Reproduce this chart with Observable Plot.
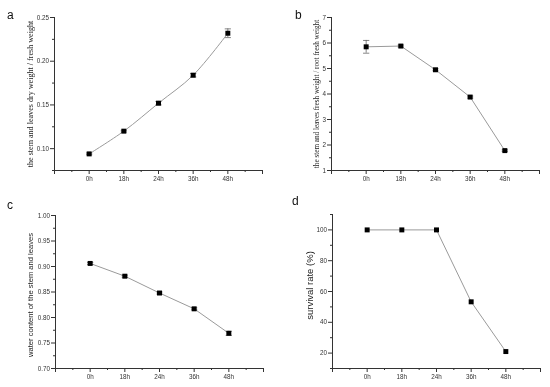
<!DOCTYPE html>
<html>
<head>
<meta charset="utf-8">
<script src="https://cdn.jsdelivr.net/npm/d3@7"></script>
<script src="https://cdn.jsdelivr.net/npm/@observablehq/plot@0.6"></script>
<style>
  html, body { margin: 0; padding: 0; background: #fff; }
  #wrap { position: relative; width: 550px; height: 387px; overflow: hidden; background: #fff; }
  .panel { position: absolute; will-change: transform; }
  .letter { position: absolute; font-family: "Liberation Sans", Arial, sans-serif; font-size: 12px; color: #111; line-height: 1; }
</style>
</head>
<body>
<div id="wrap"></div>
<script>
// ---- data ----
const timeLabels = ["0h", "18h", "24h", "36h", "48h"];

const dryRatio = [0.094, 0.120, 0.152, 0.184, 0.232];
const dryRatioErr = [0.001, 0.001, 0.002, 0.002, 0.005];

const freshRatio = [5.85, 5.88, 4.95, 3.88, 1.78];
const freshRatioErr = [0.25, 0.04, 0.04, 0.04, 0.03];

const waterContent = [0.906, 0.881, 0.848, 0.817, 0.769];
const waterContentErr = [0.002, 0.002, 0.002, 0.002, 0.004];

const survivalRate = [100, 100, 100, 53.3, 21];
const survivalRateErr = [0, 0, 0, 0, 0];

const panelLetters = ["a", "b", "c", "d"];
const yLabels = [
  "the stem and leaves dry weight / fresh weight",
  "the stem and leaves fresh weight / root fresh weight",
  "water content of the stem and leaves",
  "survival rate (%)"
];

// ---- drawing ----
const wrap = document.getElementById("wrap");
const xMajor = [-1, 0, 1, 2, 3, 4, 5];
const xMinor = [-0.5, 0.5, 1.5, 2.5, 3.5, 4.5];

function panel(cfg) {
  const data = cfg.values.map((v, i) => ({i, v, e: cfg.errs[i]}));
  const capW = 0.09;
  const eb = data.filter(d => d.e > 0);
  const plot = Plot.plot({
    width: cfg.width,
    height: cfg.height,
    marginLeft: cfg.ml, marginRight: cfg.mr, marginTop: cfg.mt, marginBottom: cfg.mb,
    style: {fontFamily: "'Liberation Sans', Arial, sans-serif", fontSize: "6.3px", color: "#333", background: "transparent", overflow: "visible"},
    x: {domain: [-1, 5], axis: null},
    y: {domain: cfg.domain, axis: null},
    marks: [
      Plot.ruleX([-1], {stroke: "#333", strokeWidth: 1}),
      Plot.ruleY([cfg.domain[0]], {stroke: "#333", strokeWidth: 1}),
      Plot.axisX({ticks: xMajor, tickSize: 4, tickPadding: 2, label: null,
        tickFormat: d => (d >= 0 && d <= 4 ? timeLabels[d] : "")}),
      Plot.axisX({ticks: xMinor, tickSize: 2, tickFormat: () => "", label: null}),
      Plot.axisY({ticks: cfg.major, tickSize: 4, tickPadding: 1.5, tickFormat: cfg.fmt, label: null}),
      Plot.axisY({ticks: cfg.minor, tickSize: 2, tickFormat: () => "", label: null}),
      Plot.line(data, {x: "i", y: "v", stroke: "#9a9a9a", strokeWidth: 1, curve: cfg.curve}),
      Plot.ruleX(eb, {x: "i", y1: d => d.v - d.e, y2: d => d.v + d.e, stroke: "#666", strokeWidth: 0.8}),
      Plot.link(eb, {x1: d => d.i - capW, x2: d => d.i + capW, y1: d => d.v + d.e, y2: d => d.v + d.e, stroke: "#666", strokeWidth: 0.8}),
      Plot.link(eb, {x1: d => d.i - capW, x2: d => d.i + capW, y1: d => d.v - d.e, y2: d => d.v - d.e, stroke: "#666", strokeWidth: 0.8}),
      Plot.dot(data, {x: "i", y: "v", symbol: "square", r: 2.8, fill: "#000", stroke: "none"}),
      Plot.text([cfg.label], {frameAnchor: "left", rotate: -90, textAnchor: "middle", dx: cfg.ldx, dy: cfg.ldy || 0,
        fontFamily: cfg.serif ? "'Liberation Serif', 'Times New Roman', serif" : "'Liberation Sans', Arial, sans-serif",
        fontSize: cfg.lfs, fill: "#222"})
    ]
  });
  plot.classList.add("panel");
  plot.style.left = cfg.left + "px";
  plot.style.top = cfg.top + "px";
  wrap.appendChild(plot);
  const L = document.createElement("div");
  L.className = "letter";
  L.textContent = cfg.letter;
  L.style.left = cfg.lx + "px";
  L.style.top = cfg.ly + "px";
  wrap.appendChild(L);
}

const f2 = d3.format(".2f");
const range = (a, b, s) => d3.range(a, b + s / 2, s).map(v => +v.toFixed(4));

panel({
  left: 0, top: 0, width: 275, height: 193, ml: 54, mr: 13, mt: 17, mb: 23,
  values: dryRatio, errs: dryRatioErr, domain: [0.075, 0.25],
  major: [0.10, 0.15, 0.20, 0.25], minor: [0.075, 0.125, 0.175, 0.225], fmt: f2,
  curve: "catmull-rom", label: yLabels[0], serif: true, lfs: 8.1, ldx: -24,
  letter: panelLetters[0], lx: 7, ly: 9
});
panel({
  left: 275, top: 0, width: 275, height: 193, ml: 56, mr: 11, mt: 17, mb: 23,
  values: freshRatio, errs: freshRatioErr, domain: [1, 7],
  major: range(1, 7, 1), minor: range(1.5, 6.5, 1), fmt: d3.format("d"),
  curve: "linear", label: yLabels[1], serif: true, lfs: 7.2, ldx: -15,
  letter: panelLetters[1], lx: 295, ly: 9
});
panel({
  left: 0, top: 194, width: 275, height: 193, ml: 55, mr: 12, mt: 21, mb: 19,
  values: waterContent, errs: waterContentErr, domain: [0.70, 1.00],
  major: range(0.70, 1.00, 0.05), minor: range(0.725, 0.975, 0.05), fmt: f2,
  curve: "linear", label: yLabels[2], serif: false, lfs: 7.6, ldx: -25, ldy: 3,
  letter: panelLetters[2], lx: 7, ly: 199
});
panel({
  left: 275, top: 194, width: 275, height: 193, ml: 57, mr: 10, mt: 20, mb: 19,
  values: survivalRate, errs: survivalRateErr, domain: [10, 110],
  major: range(20, 100, 20), minor: range(10, 110, 20), fmt: d3.format("d"),
  curve: "linear", label: yLabels[3], serif: false, lfs: 9.5, ldx: -23, ldy: -6,
  letter: panelLetters[3], lx: 292, ly: 195
});
</script>
</body>
</html>
